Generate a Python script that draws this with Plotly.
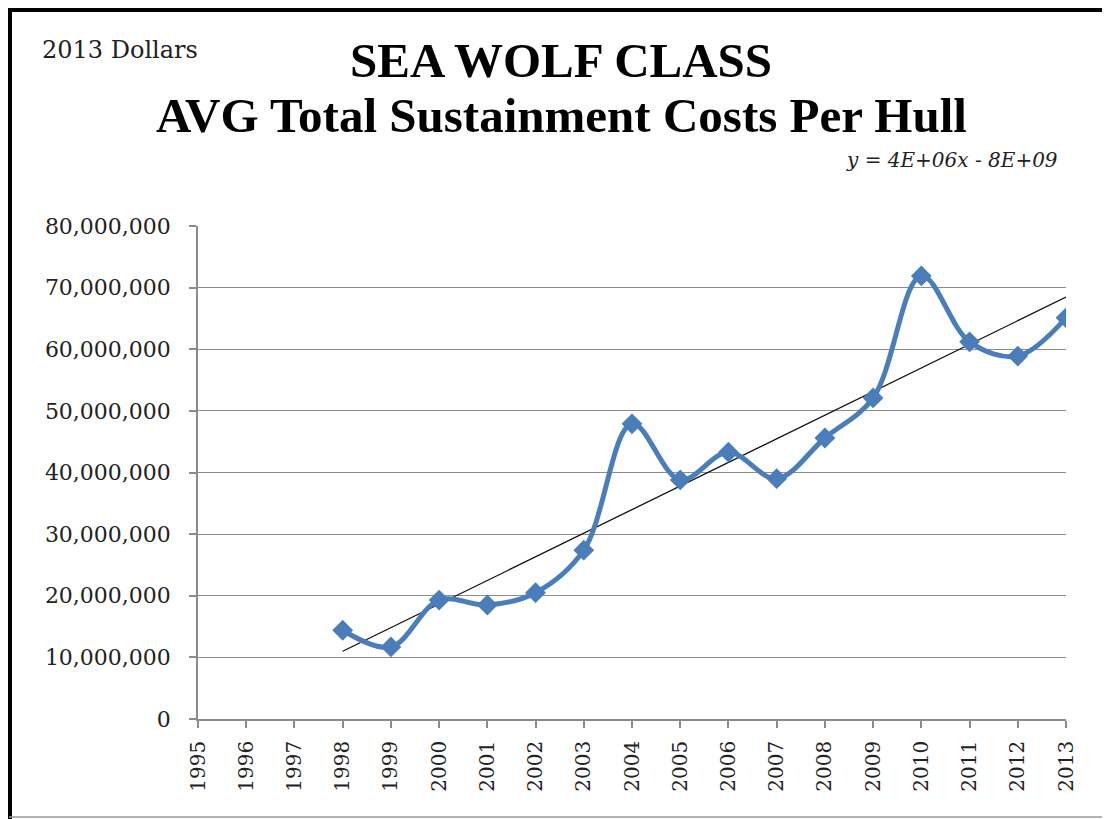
import numpy as np
import plotly.graph_objects as go

years = list(range(1995, 2014))
data_years = list(range(1998, 2014))
costs = [14.4e6, 11.7e6, 19.3e6, 18.5e6, 20.5e6, 27.4e6, 47.9e6, 38.8e6,
         43.3e6, 39.0e6, 45.6e6, 52.1e6, 71.9e6, 61.2e6, 58.9e6, 65.1e6]
y_ticks = list(range(0, 80_000_001, 10_000_000))
y_tick_text = [f"{v:,}" for v in y_ticks]

slope, intercept = np.polyfit(data_years, costs, 1)
trend_x = [data_years[0], data_years[-1]]
trend_y = [slope * x + intercept for x in trend_x]

BLUE = "#4A7EBB"
SERIF = "Liberation Serif"
SERIF2 = "DejaVu Serif"

fig = go.Figure()
fig.add_trace(go.Scatter(
    x=trend_x, y=trend_y, mode="lines",
    line=dict(color="#111111", width=1.3),
    showlegend=False, hoverinfo="skip"))
fig.add_trace(go.Scatter(
    x=data_years, y=costs, mode="lines+markers",
    line=dict(color=BLUE, width=5, shape="spline", smoothing=1),
    marker=dict(symbol="diamond", size=16, color=BLUE),
    showlegend=False))

OFF = 8  # page body margin
W, H = 1110 - OFF, 819 - OFF
L, T = 198 - OFF, 226 - OFF
R = W - (1066 - OFF)
B = H - (719 - OFF)
pw, ph = W - L - R, H - T - B

def px(x):
    return (x - OFF - L) / pw

def py(y):
    return (H - B - (y - OFF)) / ph

fig.update_layout(
    width=W, height=H,
    margin=dict(l=L, r=R, t=T, b=B, autoexpand=False),
    paper_bgcolor="white", plot_bgcolor="white",
    font=dict(family=SERIF2, color="#222222"),
    xaxis=dict(
        range=[1995, 2013], tickmode="array", tickvals=years,
        ticktext=[str(y) for y in years], tickangle=-90,
        showgrid=False, showline=True, linecolor="#8c8c8c", linewidth=1.5,
        ticks="outside", ticklen=7, tickcolor="#8c8c8c", tickwidth=1.5,
        ticklabelstandoff=5,
        tickfont=dict(family=SERIF2, size=20, color="#222222"),
        zeroline=False, fixedrange=True),
    yaxis=dict(
        range=[0, 80_000_000], tickmode="array", tickvals=y_ticks,
        ticktext=y_tick_text,
        showgrid=True, gridcolor="#8c8c8c", gridwidth=1.3,
        showline=True, linecolor="#8c8c8c", linewidth=1.5,
        ticks="outside", ticklen=7, tickcolor="#8c8c8c", tickwidth=1.5,
        ticklabelstandoff=14,
        tickfont=dict(family=SERIF2, size=22, color="#222222"),
        zeroline=False, fixedrange=True),
    annotations=[
        dict(text="2013 Dollars", x=px(40), y=py(50), xref="paper", yref="paper",
             xanchor="left", yanchor="middle", showarrow=False,
             font=dict(family=SERIF2, size=24, color="#222222")),
        dict(text="<b>SEA WOLF CLASS</b>", x=px(561), y=py(60), xref="paper", yref="paper",
             xanchor="center", yanchor="middle", showarrow=False,
             font=dict(family=SERIF, size=49, color="#000000")),
        dict(text="<b>AVG Total Sustainment Costs Per Hull</b>", x=px(561), y=py(115),
             xref="paper", yref="paper", xanchor="center", yanchor="middle",
             showarrow=False, font=dict(family=SERIF, size=49, color="#000000")),
        dict(text="<i>y = 4E+06x - 8E+09</i>", x=px(1060), y=py(160), xref="paper",
             yref="paper", xanchor="right", yanchor="middle", showarrow=False,
             font=dict(family=SERIF2, size=20, color="#222222")),
    ],
    shapes=[
        dict(type="line", xref="paper", yref="paper", x0=px(0), x1=px(1110), y0=py(10), y1=py(10),
             line=dict(color="black", width=4)),
        dict(type="line", xref="paper", yref="paper", x0=px(10), x1=px(10), y0=py(8), y1=py(819),
             line=dict(color="black", width=4)),
        dict(type="line", xref="paper", yref="paper", x0=px(9), x1=px(1110), y0=py(817), y1=py(817),
             line=dict(color="#9a9a9a", width=1.5)),
    ],
)

fig.write_html("out.html")
